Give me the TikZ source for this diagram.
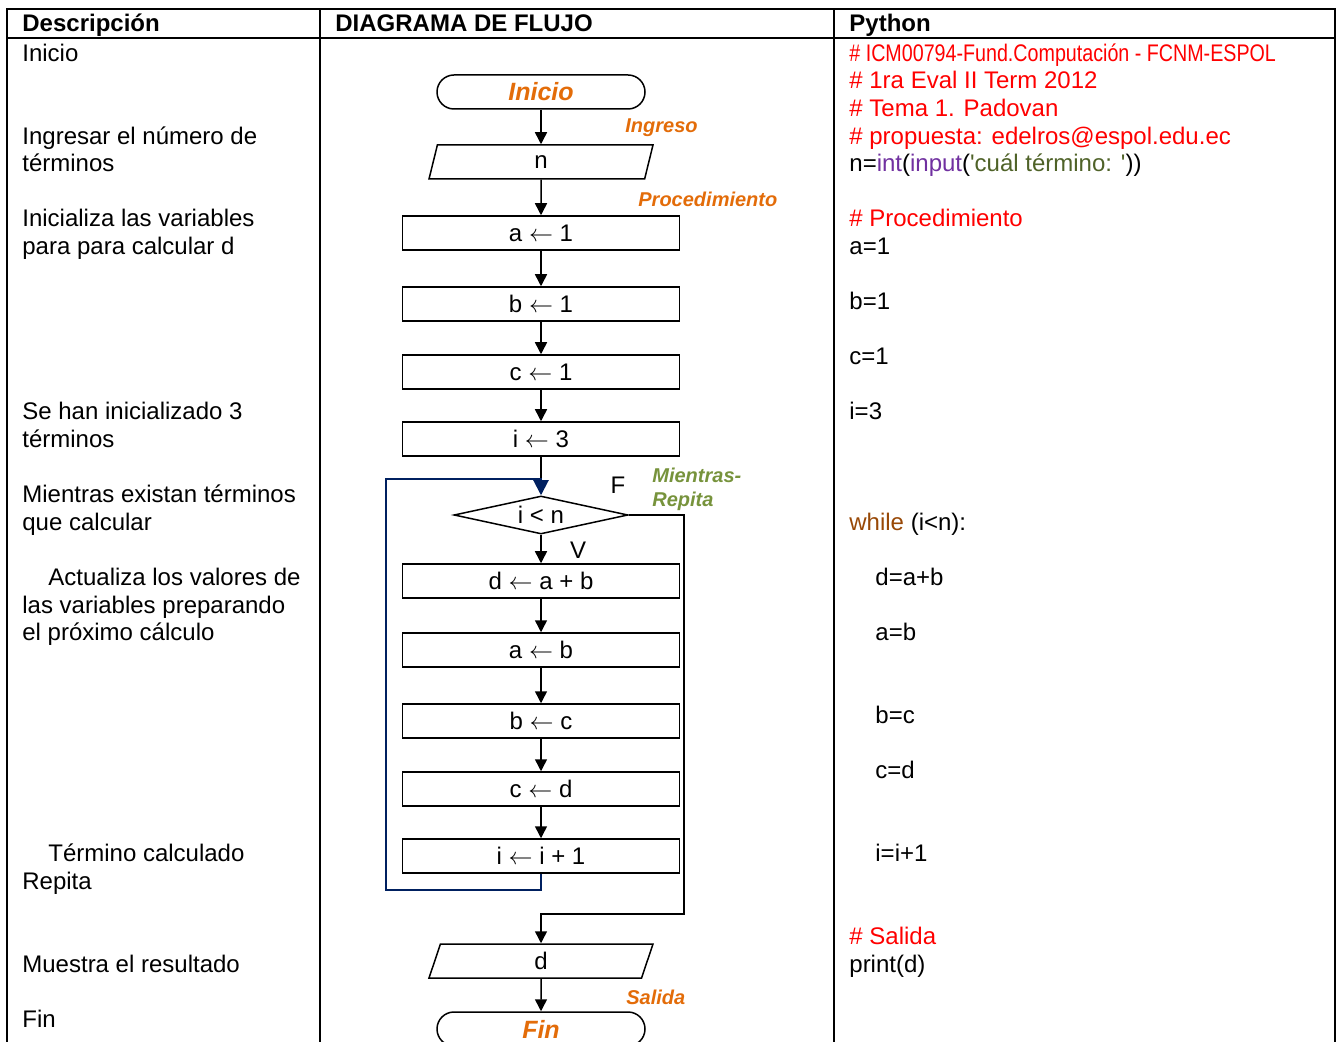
\documentclass[tikz,border=0pt]{standalone}
\usepackage{fontspec}
\usepackage{graphicx}
\setmainfont{Liberation Sans}
\usetikzlibrary{shapes.geometric,arrows.meta}
\definecolor{rojo}{HTML}{FF0000}
\definecolor{naranja}{HTML}{E36C09}
\definecolor{oliva}{HTML}{77933C}
\definecolor{morado}{HTML}{7030A0}
\definecolor{verdeosc}{HTML}{4F6228}
\definecolor{cafe}{HTML}{984806}
\definecolor{azul}{HTML}{002060}
\newcommand{\asig}{\ensuremath{\leftarrow}}
\begin{document}
\begin{tikzpicture}[x=0.5pt,y=-0.5pt,
	font=\fontsize{12}{14}\selectfont,
	texto/.style={anchor=west, inner sep=0pt, text height=8.6pt, text depth=0pt},
	titulo/.style={texto, font=\fontsize{12}{14}\selectfont\bfseries},
	etiqueta/.style={texto, font=\fontsize{10}{12}\selectfont\bfseries\itshape},
	caja/.style={draw, line width=0.75pt, minimum width=138.5pt, minimum height=17pt, inner sep=0pt},
	terminal/.style={draw, line width=0.75pt, rounded corners=8.5pt, minimum width=104pt, minimum height=17pt, inner sep=0pt, text=naranja, font=\fontsize{12.5}{14}\selectfont\bfseries\itshape},
	datos/.style={trapezium, trapezium left angle=57, trapezium right angle=123, trapezium stretches body, draw, line width=0.75pt, minimum width=112pt, minimum height=17pt, inner sep=0pt},
	decision/.style={diamond, aspect=4.6, draw, line width=0.75pt, minimum width=87pt, minimum height=19pt, inner sep=0pt},
	flecha/.style={line width=0.75pt, -{Triangle[length=6pt,width=6pt]}}]
	\useasboundingbox (0,0) rectangle (1338,1042);
	\clip (0,0) rectangle (1338,1042);

	% tabla
	\draw[line width=1.25pt] (7,1060) -- (7,9) -- (1335,9) -- (1335,1060);
	\draw[line width=1.25pt] (7,38) -- (1335,38);
	\draw[line width=1.25pt] (320,9) -- (320,1060);
	\draw[line width=1.25pt] (834,9) -- (834,1060);
	\node[titulo] (hdesc) at (22,23) {Descripción};
	\node[titulo] (hdiag) at (335,23) {DIAGRAMA DE FLUJO};
	\node[titulo] (hpy) at (849,23) {Python};

	% descripcion
	\node[texto] (d1) at (22,53) {Inicio};
	\node[texto] (d2) at (22,136) {Ingresar el número de};
	\node[texto] (d3) at (22,163) {términos};
	\node[texto] (d4) at (22,218) {Inicializa las variables};
	\node[texto] (d5) at (22,246) {para para calcular d};
	\node[texto] (d6) at (22,411) {Se han inicializado 3};
	\node[texto] (d7) at (22,439) {términos};
	\node[texto] (d8) at (22,494) {Mientras existan términos};
	\node[texto] (d9) at (22,522) {que calcular};
	\node[texto] (d10) at (48,577) {Actualiza los valores de};
	\node[texto] (d11) at (22,605) {las variables preparando};
	\node[texto] (d12) at (22,632) {el próximo cálculo};
	\node[texto] (d13) at (48,853) {Término calculado};
	\node[texto] (d14) at (22,881) {Repita};
	\node[texto] (d15) at (22,964) {Muestra el resultado};
	\node[texto] (d16) at (22,1019) {Fin};

	% python
	\node[texto, text=rojo] (p1) at (849,53) {\scalebox{0.82}[1]{\# ICM00794-Fund.Computación - FCNM-ESPOL}};
	\node[texto, text=rojo] (p2) at (849,80) {\# 1ra Eval II Term 2012};
	\node[texto, text=rojo] (p3) at (849,108) {\# Tema 1. Padovan};
	\node[texto, text=rojo] (p4) at (849,136) {\# propuesta: edelros@espol.edu.ec};
	\node[texto] (p5) at (849,163) {n=\textcolor{morado}{int}(\textcolor{morado}{input}(\textcolor{verdeosc}{\textquotesingle cuál término: \textquotesingle}))};
	\node[texto, text=rojo] (p6) at (849,218) {\# Procedimiento};
	\node[texto] (p7) at (849,246) {a=1};
	\node[texto] (p8) at (849,301) {b=1};
	\node[texto] (p9) at (849,356) {c=1};
	\node[texto] (p10) at (849,411) {i=3};
	\node[texto] (p11) at (849,522) {\textcolor{cafe}{while} (i<n):};
	\node[texto] (p12) at (875,577) {d=a+b};
	\node[texto] (p13) at (875,632) {a=b};
	\node[texto] (p14) at (875,715) {b=c};
	\node[texto] (p15) at (875,770) {c=d};
	\node[texto] (p16) at (875,853) {i=i+1};
	\node[texto, text=rojo] (p17) at (849,936) {\# Salida};
	\node[texto] (p18) at (849,964) {print(d)};

	% diagrama de flujo
	\node[terminal] (inicio) at (541,92) {Inicio};
	\node[datos] (ingreso) at (541,162) {n};
	\node[caja] (a1) at (541,233) {a \asig{} 1};
	\node[caja] (b1) at (541,304) {b \asig{} 1};
	\node[caja] (c1) at (541,372) {c \asig{} 1};
	\node[caja] (i3) at (541,439) {i \asig{} 3};
	\node[decision] (cond) at (541,515) {i < n};
	\node[caja] (dab) at (541,581) {d \asig{} a + b};
	\node[caja] (ab) at (541,650) {a \asig{} b};
	\node[caja] (bc) at (541,721) {b \asig{} c};
	\node[caja] (cd) at (541,789) {c \asig{} d};
	\node[caja] (inc) at (541,856) {i \asig{} i + 1};
	\node[datos] (salida) at (541,961) {d};
	\node[terminal] (fin) at (541,1029) {Fin};

	\node[etiqueta, text=naranja] (lingreso) at (625,124) {Ingreso};
	\node[etiqueta, text=naranja] (lproc) at (638,198) {Procedimiento};
	\node[etiqueta, text=oliva] (lmien) at (652,474) {Mientras-};
	\node[etiqueta, text=oliva] (lrep) at (652,498) {Repita};
	\node[etiqueta, text=naranja] (lsal) at (626,996) {Salida};
	\node (falso) at (618,485) {F};
	\node (verdad) at (578,550) {V};

	\coordinate (lazo) at (386,479);
	\coordinate (salto) at (684,914);

	\draw[flecha] (inicio) -- (ingreso);
	\draw[flecha] (ingreso) -- (a1);
	\draw[flecha] (a1) -- (b1);
	\draw[flecha] (b1) -- (c1);
	\draw[flecha] (c1) -- (i3);
	\draw[line width=0.75pt] (i3.south) -- (lazo -| i3.south);
	\draw[flecha] (cond) -- (dab);
	\draw[flecha] (dab) -- (ab);
	\draw[flecha] (ab) -- (bc);
	\draw[flecha] (bc) -- (cd);
	\draw[flecha] (cd) -- (inc);
	\draw[azul, line width=1pt, -{Triangle[length=7.5pt,width=7.5pt]}] (inc.south) -- ++(0,16) -| (lazo) -- (lazo -| cond.north) -- (cond.north);
	\draw[flecha] (cond.east) -| (salto) -| (salida.north);
	\draw[flecha] (salida) -- (fin);
\end{tikzpicture}
\end{document}
